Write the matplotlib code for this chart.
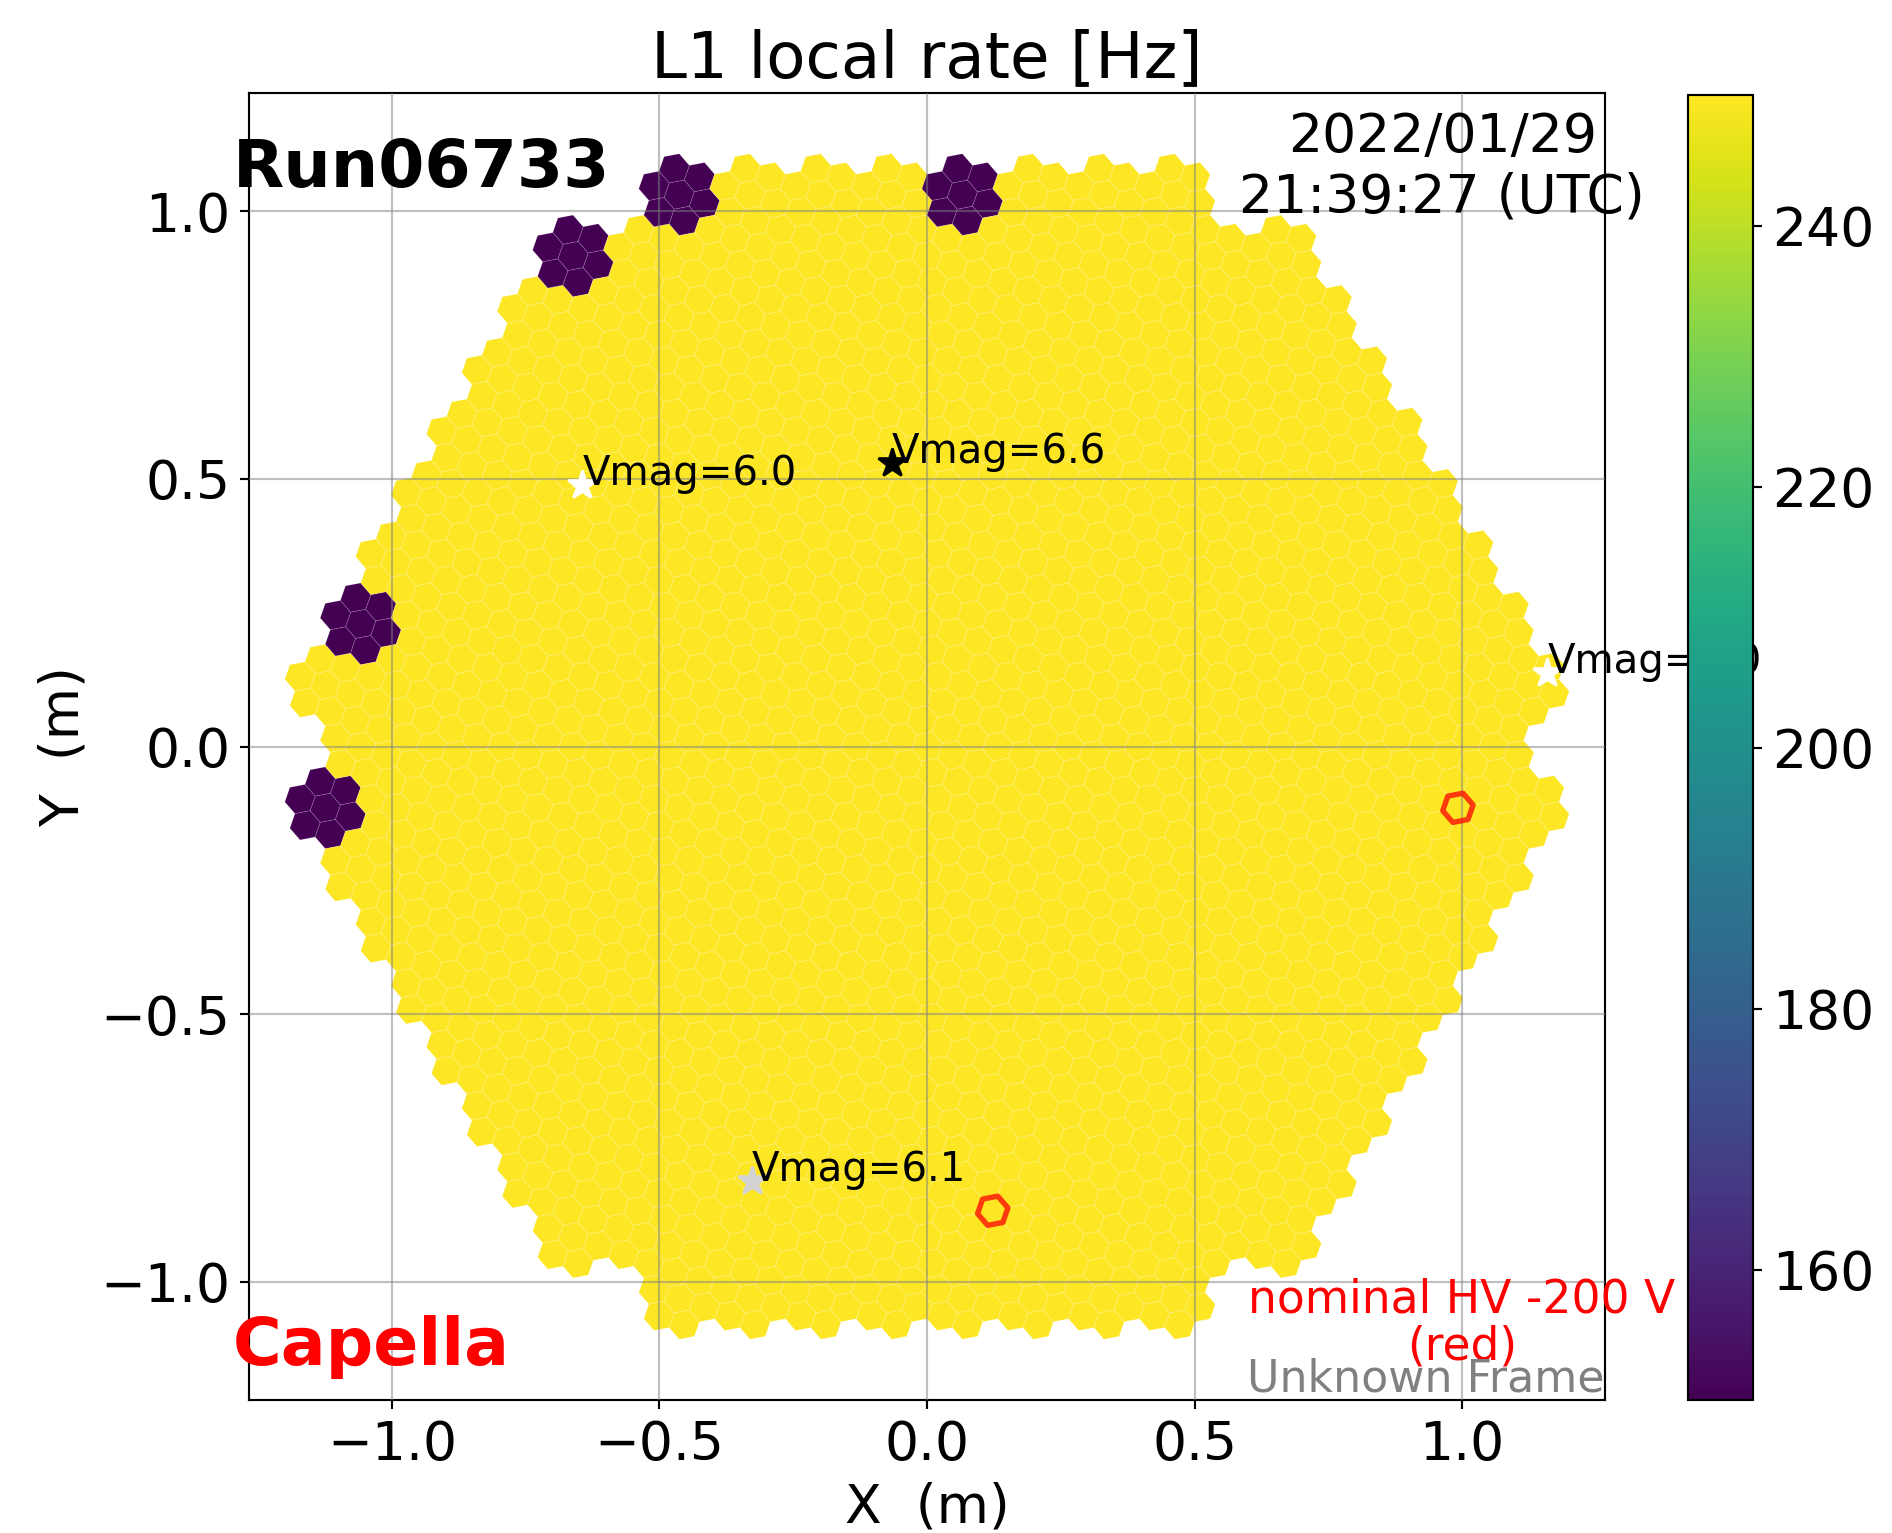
import numpy as np
import matplotlib
matplotlib.use("Agg")
import matplotlib.pyplot as plt
from matplotlib.collections import PolyCollection

# ---------------- data ----------------
pixel_spacing_m = 0.05            # LST pixel pitch
module_rings = 9                  # hexagonal rings of 7-pixel modules (corners missing)
# modules (axial lattice coords) showing a low L1 rate
dark_modules = [(-8, 9), (-4, 9), (-9, 8), (-9, 2), (-8, -1)]
dark_module_rates = [150, 150, 150, 150, 150]
other_rate = 250                  # every other pixel sits at the top of the scale
# pixels at nominal HV -200 V (module, pixel-in-module index)
red_pixels = [((5, -8), 2), ((8, -1), 0)]
# stars
star_x = [-0.644, -0.066, 1.159, -0.327]
star_y = [0.489, 0.529, 0.137, -0.811]
star_vmag = [6.0, 6.6, 6.0, 6.1]
star_colors = ["white", "black", "white", "#d3d3d3"]
vmin, vmax = 150, 250
cbar_ticks = [160, 180, 200, 220, 240]
axis_ticks = [-1.0, -0.5, 0.0, 0.5, 1.0]

# ---------------- camera geometry ----------------
d = pixel_spacing_m
s = np.sqrt(7) * d
corners = {(module_rings, 0), (0, module_rings), (-module_rings, module_rings),
           (-module_rings, 0), (0, -module_rings), (module_rings, -module_rings)}
modules = []
for i in range(-module_rings, module_rings + 1):
    for j in range(-module_rings, module_rings + 1):
        if max(abs(i), abs(j), abs(i + j)) <= module_rings and (i, j) not in corners:
            modules.append((i, j))

nb_ang = np.deg2rad(40.893 + 60 * np.arange(6))
vert_ang = np.deg2rad(10.893 + 60 * np.arange(6))
r_hex = d / np.sqrt(3)


def module_center(m):
    i, j = m
    return np.array([s * (i + j / 2.0), s * j * np.sqrt(3) / 2.0])


def pixel_center(m, k):
    c = module_center(m)
    if k == 0:
        return c
    return c + d * np.array([np.cos(nb_ang[k - 1]), np.sin(nb_ang[k - 1])])


def hexagon(c):
    return np.column_stack([c[0] + r_hex * np.cos(vert_ang), c[1] + r_hex * np.sin(vert_ang)])


dark_lookup = dict(zip(dark_modules, dark_module_rates))
verts, values = [], []
for m in modules:
    rate = dark_lookup.get(m, other_rate)
    for k in range(7):
        verts.append(hexagon(pixel_center(m, k)))
        values.append(rate)
values = np.array(values, dtype=float)

# ---------------- figure ----------------
DPI = 193
W, H = 1893, 1533
fig = plt.figure(figsize=(W / DPI, H / DPI), dpi=DPI)
ax = fig.add_axes([249 / W, 133 / H, 1356 / W, 1307 / H])
cax = fig.add_axes([1688 / W, 133 / H, 65 / W, 1305 / H])

pc = PolyCollection(verts, array=values, cmap="viridis", linewidths=0.3,
                    edgecolors=(1, 1, 1, 0.16), antialiased=True)
pc.set_clim(vmin, vmax)
ax.add_collection(pc)

red_verts = [hexagon(pixel_center(m, k)) for m, k in red_pixels]
ax.add_collection(PolyCollection(red_verts, facecolors="none", edgecolors="red",
                                 linewidths=2.0, alpha=0.75, zorder=3))

for x, y, v, c in zip(star_x, star_y, star_vmag, star_colors):
    ax.plot([x], [y], marker="*", ms=11, color=c, mec=c, ls="none", zorder=4)
    ax.text(x, y, f"Vmag={v:.1f}", fontsize=15, color="black", clip_on=False, zorder=5)

ax.set_xlim(-1.267, 1.267)
ax.set_ylim(-1.221, 1.221)
ax.set_xticks(axis_ticks)
ax.set_yticks(axis_ticks)
ax.tick_params(labelsize=20)
ax.grid(True, color="gray", alpha=0.5, lw=0.8)
ax.set_axisbelow(False)
ax.set_title("L1 local rate [Hz]", fontsize=24)
ax.set_xlabel("X  (m)", fontsize=20)
ax.set_ylabel("Y  (m)", fontsize=20)

ax.text(-0.012, 0.928, "Run06733", transform=ax.transAxes, fontsize=24.8,
        fontweight="bold", ha="left", va="baseline", clip_on=False)
ax.text(-0.012, 0.027, "Capella", transform=ax.transAxes, fontsize=24.8,
        fontweight="bold", color="red", ha="left", va="baseline", clip_on=False)
ax.text(0.963, 0.998, "2022/01/29\n21:39:27 (UTC)", fontsize=20, ha="center",
        va="baseline", clip_on=False)
ax.text(1.0, -1.146, "nominal HV -200 V\n(red)", fontsize=17, color="red",
        ha="center", va="baseline", linespacing=1.08, clip_on=False)
ax.text(1.0, 0.0, "Unknown Frame", transform=ax.transAxes, fontsize=16.5,
        color="grey", ha="right", va="bottom")

cb = fig.colorbar(pc, cax=cax, ticks=cbar_ticks)
cb.ax.tick_params(labelsize=20)

fig.savefig("out.png", dpi=DPI)
